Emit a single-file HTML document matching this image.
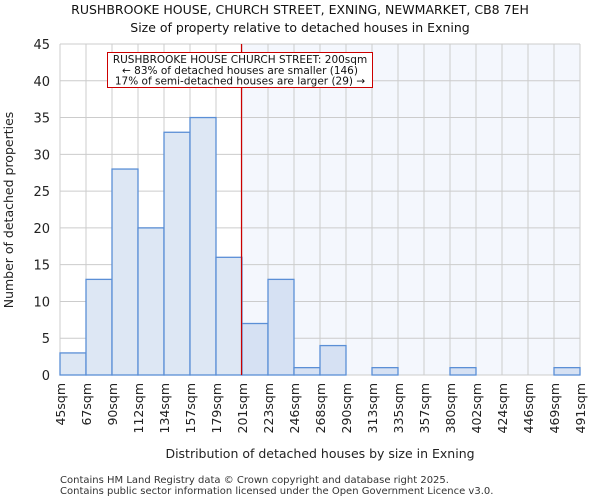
<!DOCTYPE html>
<html><head><meta charset="utf-8"><style>
body{margin:0;background:#fff;font-family:"DejaVu Sans","Liberation Sans",sans-serif}
svg text{font-family:"DejaVu Sans","Liberation Sans",sans-serif}
</style></head><body>
<svg id="c" width="600" height="500"></svg>
<script>
const categories=["45sqm","67sqm","90sqm","112sqm","134sqm","157sqm","179sqm","201sqm","223sqm","246sqm","268sqm","290sqm","313sqm","335sqm","357sqm","380sqm","402sqm","424sqm","446sqm","469sqm","491sqm"];
const counts=[3,13,28,20,33,35,16,7,13,1,4,0,1,0,0,1,0,0,0,1];
const yTicks=[0,5,10,15,20,25,30,35,40,45];
const markerBin=7;
const NS="http://www.w3.org/2000/svg",svg=document.getElementById('c');
const L=60,R=580,T=44,B=375,yMax=45,n=counts.length,bw=(R-L)/n;
const X=i=>L+i*bw,Y=v=>B-(v/yMax)*(B-T);
function el(t,a,p){const e=document.createElementNS(NS,t);for(const k in a)e.setAttribute(k,a[k]);(p||svg).appendChild(e);return e;}
let s=el('rect',{x:X(markerBin),y:T,width:R-X(markerBin),height:B-T,fill:'#f4f7fd'});


for(let i=0;i<=n;i++){let g=el('line',{x1:X(i),x2:X(i),y1:T,y2:B,stroke:'#cccccc','stroke-width':1});

}
yTicks.forEach(v=>{let g=el('line',{x1:L,x2:R,y1:Y(v),y2:Y(v),stroke:'#cccccc','stroke-width':1});


let t=el('text',{x:L-10,y:Y(v)+5,'text-anchor':'end','font-size':13,fill:'#222'});t.textContent=v;

});
counts.forEach((v,i)=>{if(v<=0)return;let r=el('rect',{x:X(i),y:Y(v),width:bw,height:B-Y(v),fill:i>=markerBin?'#d6e1f3':'#dde7f4',stroke:'#5b8fd6','stroke-width':1.3});

});
categories.forEach((c,i)=>{let t=el('text',{transform:`translate(${X(i)+5},383) rotate(-90)`,'text-anchor':'end','font-size':12.5,fill:'#222'});t.textContent=c;

});
let ml=el('line',{x1:X(markerBin)-0.5,x2:X(markerBin)-0.5,y1:T,y2:B,stroke:'#cc0000','stroke-width':1.2});


</script>
<svg width="600" height="500" style="position:absolute;left:0;top:0">
<rect x="107.5" y="52.5" width="265" height="35" fill="#fff" stroke="#cc0000" stroke-width="1"/>
<text x="240" y="63" text-anchor="middle" font-size="10.5" fill="#111">RUSHBROOKE HOUSE CHURCH STREET: 200sqm</text>
<text x="240" y="74" text-anchor="middle" font-size="10.5" fill="#111">← 83% of detached houses are smaller (146)</text>
<text x="240" y="84.5" text-anchor="middle" font-size="10.5" fill="#111">17% of semi-detached houses are larger (29) →</text>
<text x="300" y="14" text-anchor="middle" font-size="12.5" fill="#111">RUSHBROOKE HOUSE, CHURCH STREET, EXNING, NEWMARKET, CB8 7EH</text>
<text x="300" y="32" text-anchor="middle" font-size="12.5" fill="#111">Size of property relative to detached houses in Exning</text>
<text x="320" y="458" text-anchor="middle" font-size="12.5" fill="#222">Distribution of detached houses by size in Exning</text>
<text transform="translate(13,210) rotate(-90)" text-anchor="middle" font-size="12.5" fill="#222">Number of detached properties</text>
<text x="60" y="483" font-size="10" fill="#333">Contains HM Land Registry data © Crown copyright and database right 2025.</text>
<text x="60" y="494" font-size="10" fill="#333">Contains public sector information licensed under the Open Government Licence v3.0.</text>
</svg>
</body></html>
